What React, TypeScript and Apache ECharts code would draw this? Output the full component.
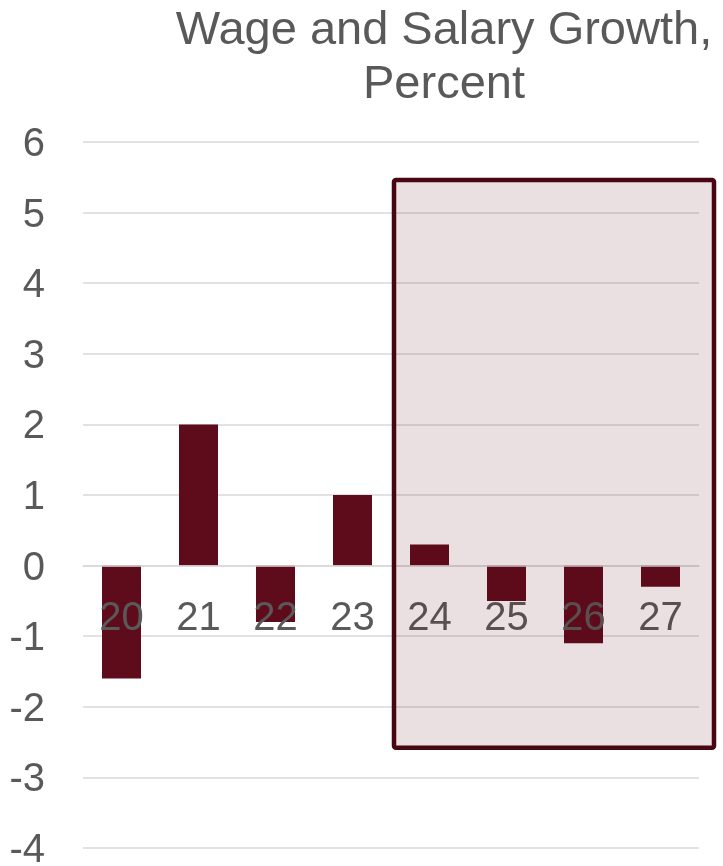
import React, { useEffect, useRef } from "react";
import * as echarts from "echarts";

const categories = ["20", "21", "22", "23", "24", "25", "26", "27"];
const growth = [-1.6, 2.0, -0.8, 1.0, 0.3, -0.5, -1.1, -0.3];
const yMin = -4;
const yMax = 6;
const yStep = 1;
const titleText = "Wage and Salary Growth,\nPercent";
// shaded forecast region
const shadeFromCategory = "24";
const shadeTop = 5.46;
const shadeBottom = -2.58;

const FONT = "'Liberation Sans', Arial, sans-serif";
const GREY = "#595959";
const MAROON = "#5e0b1b";

export default function App() {
  const ref = useRef<HTMLDivElement>(null);
  useEffect(() => {
    if (!ref.current) return;
    const chart = echarts.init(ref.current, undefined, { renderer: "svg" });
    chart.setOption({
      animation: false,
      title: {
        text: titleText,
        left: 444,
        top: 0,
        textAlign: "center",
        padding: 0,
        textStyle: {
          fontFamily: FONT,
          fontSize: 47,
          fontWeight: "normal",
          color: GREY,
          lineHeight: 54,
        },
      },
      grid: {
        left: 83,
        right: 24,
        top: 142,
        bottom: 18,
        containLabel: false,
        outerBoundsMode: "none",
      },
      xAxis: {
        type: "category",
        data: categories,
        position: "bottom",
        z: 10,
        axisLine: { show: true, onZero: false, lineStyle: { color: "#d9d9d9", width: 1.5 } },
        axisTick: { show: false },
        axisLabel: { fontFamily: FONT, fontSize: 40, color: GREY, margin: 30 },
        splitLine: { show: false },
      },
      yAxis: {
        type: "value",
        min: yMin,
        max: yMax,
        interval: yStep,
        axisLine: { show: false },
        axisTick: { show: false },
        axisLabel: { fontFamily: FONT, fontSize: 40, lineHeight: 34, color: GREY, margin: 38 },
        splitLine: { show: true, lineStyle: { color: "#d9d9d9", width: 1.5 } },
      },
      series: [
        {
          type: "bar",
          data: growth,
          barWidth: 39,
          z: 2,
          itemStyle: { color: MAROON },
        },
      ],
    });

    // move the category axis (line + labels) up to the zero line
    const zeroY = chart.convertToPixel({ yAxisIndex: 0 }, 0) as number;
    const baseY = chart.convertToPixel({ yAxisIndex: 0 }, yMin) as number;

    const center = chart.convertToPixel({ xAxisIndex: 0 }, shadeFromCategory) as number;
    const next = chart.convertToPixel(
      { xAxisIndex: 0 },
      categories[categories.indexOf(shadeFromCategory) + 1]
    ) as number;
    const band = next - center;
    const left = center - band / 2 + 3;
    const right = chart.getWidth() - 9;
    const top = chart.convertToPixel({ yAxisIndex: 0 }, shadeTop) as number;
    const bottom = chart.convertToPixel({ yAxisIndex: 0 }, shadeBottom) as number;

    chart.setOption({
      xAxis: { offset: zeroY - baseY },
      graphic: [
        {
          type: "rect",
          z: 100,
          silent: true,
          shape: { x: left, y: top, width: right - left, height: bottom - top, r: 2 },
          style: {
            fill: "rgba(94,11,27,0.13)",
            stroke: "#4a0512",
            lineWidth: 4.5,
          },
        },
      ],
    });

    return () => chart.dispose();
  }, []);
  return (
    <div
      ref={ref}
      style={{ position: "fixed", left: 0, top: 0, width: 723, height: 866 }}
    />
  );
}
